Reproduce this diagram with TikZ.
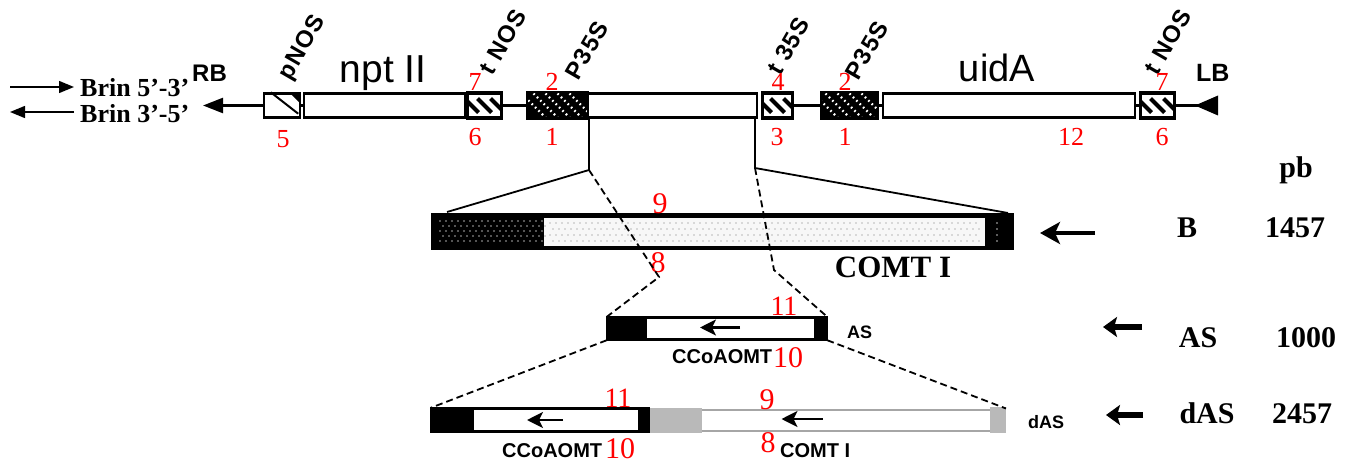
\documentclass[tikz,border=0pt]{standalone}
\usepackage{fontspec}
\setmainfont{Liberation Serif}
\setsansfont{Liberation Sans}
\usetikzlibrary{arrows.meta,calc}
\newcommand\setfs[1]{\fontsize{#1}{#1}\selectfont}

\begin{document}
\begin{tikzpicture}[x=1pt,y=-1pt,
  seg/.style={draw,line width=2.4pt,inner sep=0pt,minimum height=24pt,fill=white},
  numlab/.style={text=red,font=\setfs{26},inner sep=0pt,anchor=base},
  bignum/.style={text=red,font=\setfs{30},inner sep=0pt,anchor=base},
  vertlab/.style={rotate=60,anchor=base west,inner sep=0pt,font=\sffamily\bfseries\setfs{24}\addfontfeature{LetterSpace=6}},
  genelab/.style={inner sep=0pt,anchor=base,font=\sffamily\setfs{39}},
  sizelab/.style={inner sep=0pt,anchor=base,font=\bfseries\setfs{30}},
  smallsans/.style={inner sep=0pt,anchor=base west,font=\sffamily\bfseries\setfs{20}},
  tagsans/.style={inner sep=0pt,anchor=base west,font=\sffamily\bfseries\setfs{18}},
  zoomline/.style={line width=1.8pt},
  zoomdash/.style={line width=1.8pt,dash pattern=on 7pt off 4pt},
  backbone/.style={line width=2.4pt},
  hatch/.style={line width=4pt},
  dotline/.style={white,line width=2.2pt,dash pattern=on 1.6pt off 3.2pt},
  inarrow/.style={line width=2.2pt,-{Stealth[length=16pt,width=16pt,inset=4pt]}},
]
\useasboundingbox (0,0) rectangle (1348,468);
\fill[white] (0,0) rectangle (1348,468);

% ---------- strand legend ----------
\coordinate (fwdS) at (10,87);
\coordinate (fwdE) at (74,87);
\coordinate (revS) at (74,112);
\coordinate (revE) at (10,112);
\draw[line width=1.4pt,-{Triangle[length=15pt,width=12pt]}] (fwdS) -- (fwdE);
\draw[line width=1.4pt,-{Triangle[length=15pt,width=12pt]}] (revS) -- (revE);
\node[inner sep=0pt,anchor=base west,font=\bfseries\setfs{26}] (brinA) at (80,97) {Brin 5’-3’};
\node[inner sep=0pt,anchor=base west,font=\bfseries\setfs{26}] (brinB) at (80,123) {Brin 3’-5’};

% ---------- T-DNA map ----------
\node[seg,minimum width=36pt] (pnos) at (282,105.5) {};
\node[seg,minimum width=161pt] (npt) at (384.5,105.5) {};
\node[seg,minimum width=33pt] (tnosA) at (484.5,105.5) {};
\node[seg,minimum width=59pt,fill=black] (ppA) at (557.5,105.5) {};
\node[seg,minimum width=170pt] (comt) at (672,105.5) {};
\node[seg,minimum width=29pt] (tss) at (777.5,105.5) {};
\node[seg,minimum width=55pt,fill=black] (ppB) at (849.5,105.5) {};
\node[seg,minimum width=252pt] (uida) at (1009,105.5) {};
\node[seg,minimum width=33pt] (tnosB) at (1157.5,105.5) {};

% promoter boxes: dotted diagonal stripes
\foreach \n in {ppA,ppB}{
  \begin{scope}
    \clip (\n.north west) rectangle (\n.south east);
    \foreach \d in {-24,-12,0,12,24}
      \draw[dotline] ($(\n.center)+(\d-12,-12)$) -- ($(\n.center)+(\d+12,12)$);
  \end{scope}
  \draw[line width=2.4pt] (\n.north west) rectangle (\n.south east);
}
% terminator boxes: hatched
\foreach \n in {tnosA,tss,tnosB}{
  \begin{scope}
    \clip (\n.north west) rectangle (\n.south east);
    \foreach \d in {-13,0,13}
      \draw[hatch] ($(\n.center)+(\d-7,-7)$) -- ($(\n.center)+(\d+7,7)$);
  \end{scope}
  \draw[line width=2.4pt] (\n.north west) rectangle (\n.south east);
}
% pNOS box
\draw[line width=2pt] ($(pnos.north west)+(8,0)$) -- ($(pnos.south east)+(-3,-5)$);
\fill ($(pnos.north east)+(-10,2)$) -- ($(pnos.north east)+(-2,2)$) -- ($(pnos.north east)+(-2,10)$) -- cycle;

% backbone and borders
\coordinate (rbtip) at (203,105.5);
\coordinate (lbend) at (1218,105.5);
\draw[backbone,-{Triangle[length=20pt,width=15pt]}] (pnos.west) -- (rbtip);
\draw[backbone] (pnos.east) -- (npt.west);
\draw[backbone] (tnosA.east) -- (ppA.west);
\draw[backbone] (tss.east) -- (ppB.west);
\draw[backbone] (ppB.east) -- (uida.west);
\draw[backbone] (uida.east) -- (tnosB.west);
\draw[backbone] (tnosB.east) -- (lbend);
\fill ($(lbend)+(0,-10)$) -- ($(lbend)+(0,10)$) -- ($(lbend)+(-23,0)$) -- cycle;

% map labels
\node[inner sep=0pt,anchor=base west,font=\sffamily\bfseries\setfs{24}] (rb) at (192,82) {RB};
\node[inner sep=0pt,anchor=base west,font=\sffamily\bfseries\setfs{25}] (lb) at (1196,82) {LB};
\node[genelab] (nptlab) at (383,83) {npt II};
\node[genelab,font=\sffamily\setfs{38}] (uidlab) at (997,82) {uidA};
\node[vertlab] (lpnos) at (290,82) {pNOS};
\node[vertlab] (ltnosA) at (492,77) {t NOS};
\node[vertlab] (lppA) at (578,82) {P35S};
\node[vertlab] (ltss) at (780,77) {t 35S};
\node[vertlab] (lppB) at (858,82) {P35S};
\node[vertlab] (ltnosB) at (1157,77) {t NOS};

% numbers on the map
\node[numlab] (n5) at (283,147) {5};
\node[numlab] (n7a) at (475,91) {7};
\node[numlab] (n6a) at (475,146) {6};
\node[numlab] (n2a) at (552,91) {2};
\node[numlab] (n1a) at (552,146) {1};
\node[numlab] (n4) at (778,91) {4};
\node[numlab] (n3) at (777,146) {3};
\node[numlab] (n2b) at (845,91) {2};
\node[numlab] (n1b) at (845,146) {1};
\node[numlab] (n12) at (1071,146) {12};
\node[numlab] (n7b) at (1162,91) {7};
\node[numlab] (n6b) at (1162,146) {6};

% ---------- COMT I fragment (B) ----------
\node[draw,line width=3pt,inner sep=0pt,minimum width=577pt,minimum height=31pt,fill=gray!6] (bbox) at (722.5,231.5) {};
\fill[black] (bbox.north west) rectangle ($(bbox.south west)+(111,0)$);
\fill[black] ($(bbox.north east)+(-28,0)$) rectangle (bbox.south east);
\foreach \i in {0,...,17}
  \foreach \j in {0,...,4}
    \fill[gray!65] ({440+\i*6+mod(\j,2)*3},{221+\j*5}) circle (0.9pt);
\foreach \i in {0,...,71}
  \foreach \j in {0,...,3}
    \fill[gray!55] ({550+\i*6+mod(\j,2)*3},{223+\j*6}) circle (0.8pt);
\foreach \j in {0,...,3}
  \fill[gray!50] (997,{223+\j*6}) circle (0.8pt);
\draw[line width=3pt] (bbox.north west) rectangle (bbox.south east);

\coordinate (cl) at (589,170);
\coordinate (cr) at (755,168);
\coordinate (bl) at (447,212);
\coordinate (br) at (1008,213);
\draw[line width=2.4pt] (cl |- comt.south) -- (cl);
\draw[line width=2.4pt] (cr |- comt.south) -- (cr);
\draw[zoomline] (cl) -- (bl);
\draw[zoomline] (cr) -- (br);

\node[bignum] (n9a) at (660,213) {9};
\node[bignum] (n8a) at (658,272) {8};
\node[inner sep=0pt,anchor=base,font=\bfseries\setfs{31}] (comtlab) at (893,277) {COMT I};

% ---------- antisense CCoAOMT (AS) ----------
\node[draw,line width=2.4pt,inner sep=0pt,minimum width=218pt,minimum height=21pt,fill=white] (asbox) at (717,328.5) {};
\fill[black] (asbox.north west) rectangle ($(asbox.south west)+(40,0)$);
\fill[black] ($(asbox.north east)+(-13,0)$) rectangle (asbox.south east);
\draw[line width=2.4pt] (asbox.north west) rectangle (asbox.south east);
\draw[inarrow] ($(asbox.center)+(23,-1)$) -- ($(asbox.center)+(-17,-1)$);

\coordinate (kl) at (659,277);
\coordinate (kr) at (774,270);
\draw[zoomdash] (cl) -- (kl) -- (asbox.north west);
\draw[zoomdash] (cr) -- (kr) -- (asbox.north east);

\node[bignum,font=\setfs{28}] (n11a) at (784,315) {11};
\node[smallsans] (ccoa) at (672,363) {CCoAOMT};
\node[bignum,anchor=base west] (n10a) at (773,367) {10};
\node[tagsans] (astag) at (847,338) {AS};

% ---------- double antisense (dAS) ----------
\node[draw=gray!70,line width=2pt,inner sep=0pt,minimum width=357pt,minimum height=21pt,fill=white] (dasr) at (826.5,420) {};
\fill[gray!55] ($(dasr.north west)+(0,-1)$) rectangle ($(dasr.south west)+(55,1)$);
\fill[gray!55] ($(dasr.north east)+(-16,-2)$) rectangle ($(dasr.south east)+(0,1)$);
\node[draw,line width=2.4pt,inner sep=0pt,minimum width=216pt,minimum height=22pt,fill=white] (dasl) at (540,420) {};
\fill[black] (dasl.north west) rectangle ($(dasl.south west)+(43,0)$);
\fill[black] ($(dasl.north east)+(-11,0)$) rectangle (dasl.south east);
\draw[line width=2.4pt] (dasl.north west) rectangle (dasl.south east);
\draw[inarrow] ($(dasl.center)+(23,0)$) -- ($(dasl.center)+(-13,0)$);
\draw[inarrow] ($(dasr.center)+(-4,-1)$) -- ($(dasr.center)+(-45,-1)$);

\draw[zoomdash] (asbox.south west) -- (dasl.north west);
\draw[zoomdash] (asbox.south east) -- (dasr.north east);

\node[bignum,font=\setfs{28}] (n11b) at (618,407) {11};
\node[smallsans] (ccoab) at (502,457) {CCoAOMT};
\node[bignum,anchor=base west] (n10b) at (605,458) {10};
\node[bignum] (n9b) at (767,409) {9};
\node[bignum] (n8b) at (768,452) {8};
\node[smallsans] (comtb) at (780,457) {COMT I};
\node[tagsans] (dastag) at (1028,428) {dAS};

% ---------- sizes ----------
\coordinate (bAs) at (1095,233);
\coordinate (bAe) at (1040,233);
\coordinate (asAs) at (1142,327);
\coordinate (asAe) at (1103,327);
\coordinate (dAs) at (1143,415);
\coordinate (dAe) at (1106,415);
\draw[line width=4pt,-{Stealth[length=20pt,width=22pt,inset=5pt]}] (bAs) -- (bAe);
\draw[line width=6pt,-{Stealth[length=14pt,width=20pt,inset=3pt]}] (asAs) -- (asAe);
\draw[line width=6pt,-{Stealth[length=14pt,width=20pt,inset=3pt]}] (dAs) -- (dAe);

\node[sizelab] (pb) at (1296,177) {pb};
\node[sizelab] (szB) at (1187,237) {B};
\node[sizelab] (szBn) at (1295,237) {1457};
\node[sizelab] (szAS) at (1198,347) {AS};
\node[sizelab] (szASn) at (1306,347) {1000};
\node[sizelab] (szd) at (1207,423) {dAS};
\node[sizelab] (szdn) at (1302,423) {2457};
\end{tikzpicture}
\end{document}
